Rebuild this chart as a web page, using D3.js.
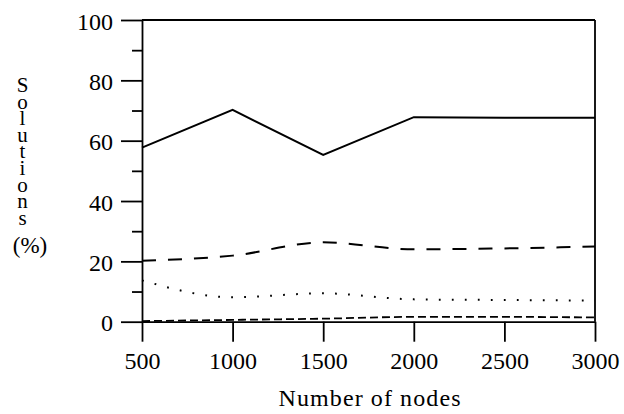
<!DOCTYPE html>
<html><head><meta charset="utf-8">
<script src="https://cdn.jsdelivr.net/npm/d3@7"></script>
<style>
html,body{margin:0;padding:0;background:#fff;}
svg{display:block;}
</style></head>
<body>
<script>
const nodes = [500, 1000, 1500, 2000, 2500, 3000];
const solidSeries = [57.7, 70.2, 55.3, 67.8, 67.6, 67.6];
const longDashSeries = [20.2, 21.9, 26.3, 24.0, 24.3, 24.9];
const dottedSeries = [13.7, 8.1, 9.4, 7.4, 7.2, 7.0];
const shortDashSeries = [0.2, 0.6, 1.0, 1.6, 1.6, 1.4];
const xTicks = [500, 1000, 1500, 2000, 2500, 3000];
const yMajorTicks = [0, 20, 40, 60, 80, 100];
const yMinorTicks = [10, 30, 50, 70, 90];
const yTitle = "Solutions";
const yUnit = "(%)";
const xTitle = "Number of nodes";

const W = 624, H = 414;
const svg = d3.select("body").append("svg").attr("width", W).attr("height", H);

const x = d3.scaleLinear().domain([500, 3000]).range([142, 595]);
const y = d3.scaleLinear().domain([0, 100]).range([321.7, 20]);

const font = "'Liberation Serif', 'Times New Roman', serif";

// frame (top and right)
svg.append("line").attr("x1", x(500)).attr("x2", x(3000)).attr("y1", y(100)).attr("y2", y(100))
  .attr("stroke", "#000").attr("stroke-width", 1.8);
svg.append("line").attr("x1", x(3000)).attr("x2", x(3000)).attr("y1", y(100)).attr("y2", y(0))
  .attr("stroke", "#000").attr("stroke-width", 1.8);

// bottom axis
const gx = svg.append("g").attr("transform", `translate(0,${y(0)})`)
  .call(d3.axisBottom(x).tickValues(xTicks).tickSize(20).tickSizeOuter(0).tickPadding(10).tickFormat(d3.format("d")));
gx.select(".domain").attr("stroke-width", 1.8);
gx.selectAll(".tick line").attr("stroke-width", 1.8);
gx.selectAll("text").attr("font-family", font).attr("font-size", 24).attr("fill", "#000");

// left axis major
const gy = svg.append("g").attr("transform", `translate(${x(500)},0)`)
  .call(d3.axisLeft(y).tickValues(yMajorTicks).tickSize(21).tickSizeOuter(0).tickPadding(8).tickFormat(d3.format("d")));
gy.select(".domain").attr("stroke-width", 1.8);
gy.selectAll(".tick line").attr("stroke-width", 1.8);
gy.selectAll("text").attr("font-family", font).attr("font-size", 24).attr("fill", "#000").attr("dy", "0.38em");

// left axis minor
const gym = svg.append("g").attr("transform", `translate(${x(500)},0)`)
  .call(d3.axisLeft(y).tickValues(yMinorTicks).tickSize(10).tickSizeOuter(0).tickFormat(""));
gym.select(".domain").remove();
gym.selectAll(".tick line").attr("stroke-width", 1.8);

// lines
function addLine(vals, curve, dash, width) {
  const line = d3.line().x((d, i) => x(nodes[i])).y(d => y(d)).curve(curve);
  svg.append("path").datum(vals).attr("d", line)
    .attr("fill", "none").attr("stroke", "#000").attr("stroke-width", width)
    .attr("stroke-dasharray", dash);
}
addLine(solidSeries, d3.curveLinear, null, 2);
addLine(longDashSeries, d3.curveMonotoneX, "14,12", 2);
addLine(dottedSeries, d3.curveMonotoneX, "1.8,11.2", 2);
addLine(shortDashSeries, d3.curveMonotoneX, "8,4", 1.8);

// x title
svg.append("text").attr("x", (x(500) + x(3000)) / 2 + 1).attr("y", 406)
  .attr("text-anchor", "middle").attr("font-family", font).attr("font-size", 24)
  .attr("textLength", 182).attr("lengthAdjust", "spacing")
  .text(xTitle);

// y title: upright stacked letters
svg.append("text").attr("x", 22.5).attr("y", 73)
  .attr("font-family", font).attr("font-size", 21)
  .style("writing-mode", "vertical-rl").style("text-orientation", "upright")
  .style("letter-spacing", "-7.4px")
  .text(yTitle);
svg.append("text").attr("x", 30).attr("y", 253).attr("text-anchor", "middle")
  .attr("font-family", font).attr("font-size", 23).text(yUnit);
</script>
</body></html>
